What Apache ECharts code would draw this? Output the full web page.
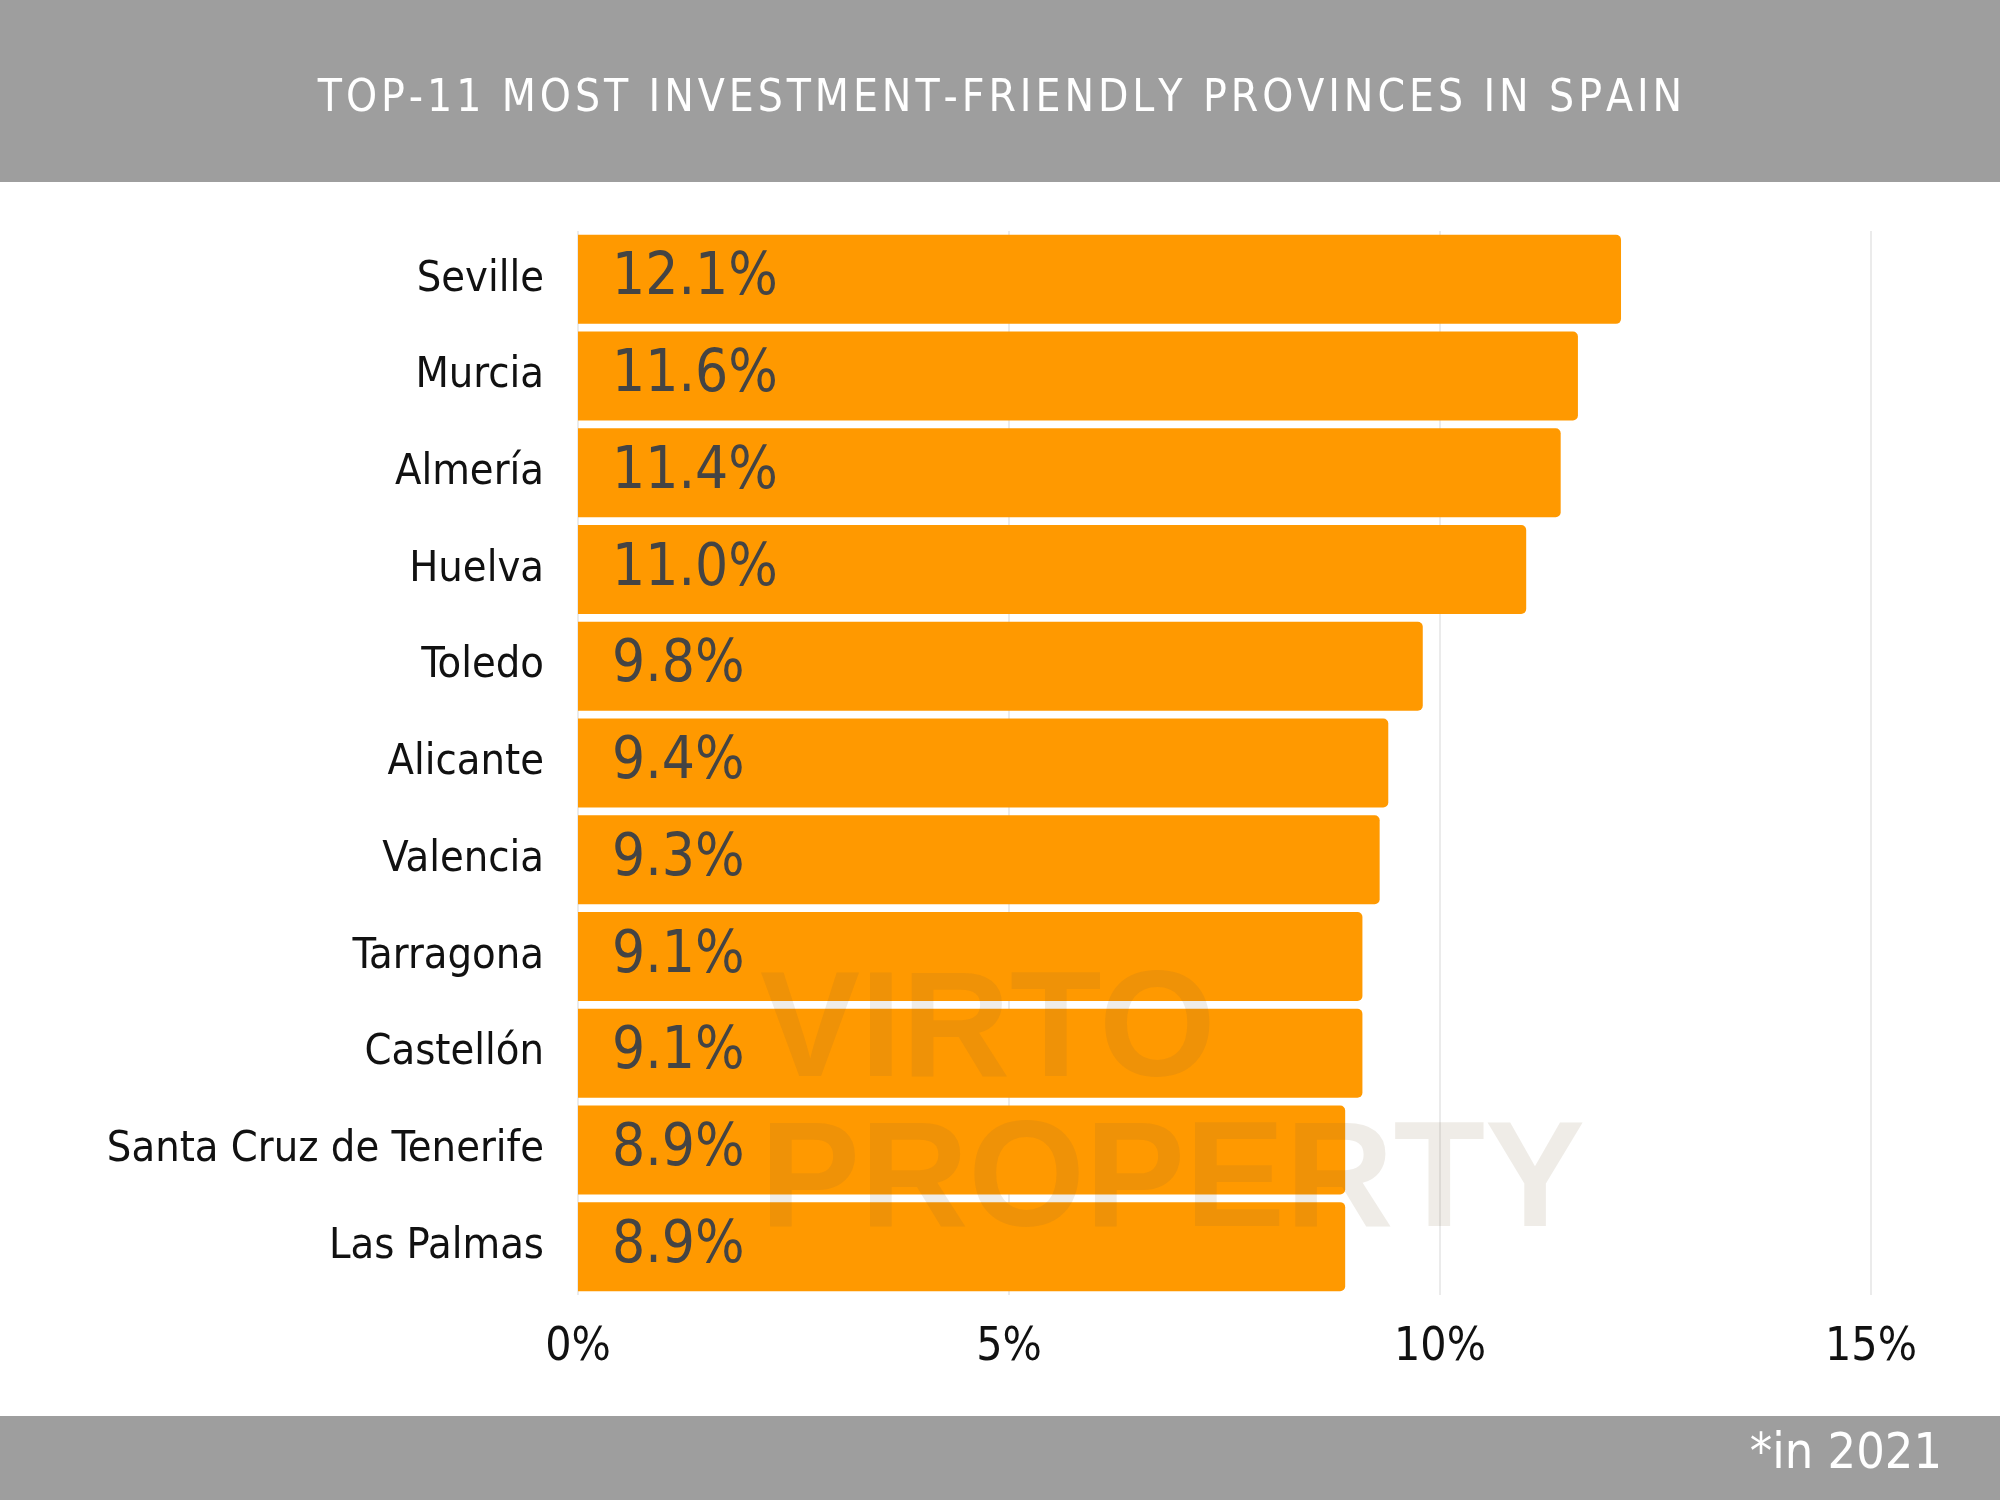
<!DOCTYPE html>
<html><head><meta charset="utf-8">
<script src="https://cdn.jsdelivr.net/npm/echarts@6/dist/echarts.min.js"></script>
<style>html,body{margin:0;padding:0;background:#fff}#c{width:2000px;height:1500px}</style>
</head><body><div id="c"></div>
<script>
const categories = ["Seville","Murcia","Almería","Huelva","Toledo","Alicante","Valencia","Tarragona","Castellón","Santa Cruz de Tenerife","Las Palmas"];
const values = [12.1,11.6,11.4,11.0,9.8,9.4,9.3,9.1,9.1,8.9,8.9];
const ticks = [0,5,10,15];
const font = "'DejaVu Sans Condensed','Liberation Sans Narrow','Roboto',sans-serif";
const title = 'TOP-11 MOST INVESTMENT-FRIENDLY PROVINCES IN SPAIN'.split('').join('\u200A');
const chart = echarts.init(document.getElementById('c'));
chart.setOption({
  animation:false,
  graphic:[
    {type:'rect',shape:{x:0,y:0,width:2000,height:182},style:{fill:'#9e9e9e'},z:-1},
    {type:'rect',shape:{x:0,y:1416,width:2000,height:84},style:{fill:'#9e9e9e'},z:-1},
    {type:'text',left:'center',top:78,style:{text:title,fill:'#fff',font:'44px '+font}},
    {type:'text',right:58,top:1430,style:{text:'*in 2021',fill:'#fff',font:'50px '+font}},
    {type:'text',left:760,top:960,z:100,style:{text:'VIRTO\nPROPERTY',fill:'rgba(120,100,60,0.12)',font:'bold 150px sans-serif',align:'center'}}
  ],
  grid:{left:578,right:129,top:231,bottom:205},
  xAxis:{type:'value',min:0,max:15,interval:5,
    axisLabel:{formatter:v=>ticks.includes(v)?v+'%':'',color:'#111',fontSize:46,fontFamily:font,margin:30},
    splitLine:{lineStyle:{color:'#ebebeb',width:2}},axisLine:{show:false},axisTick:{show:false}},
  yAxis:{type:'category',data:categories,inverse:true,
    axisLabel:{color:'#111',fontSize:43,fontFamily:font,margin:34},
    axisLine:{show:false},axisTick:{show:false}},
  series:[{type:'bar',data:values,barCategoryGap:'8%',
    itemStyle:{color:'#ff9900',borderRadius:[0,5,5,0]},
    label:{show:true,position:'insideLeft',distance:34,formatter:p=>p.value.toFixed(1)+'%',
      color:'#444',fontSize:58,fontFamily:font}}]
});
</script></body></html>
